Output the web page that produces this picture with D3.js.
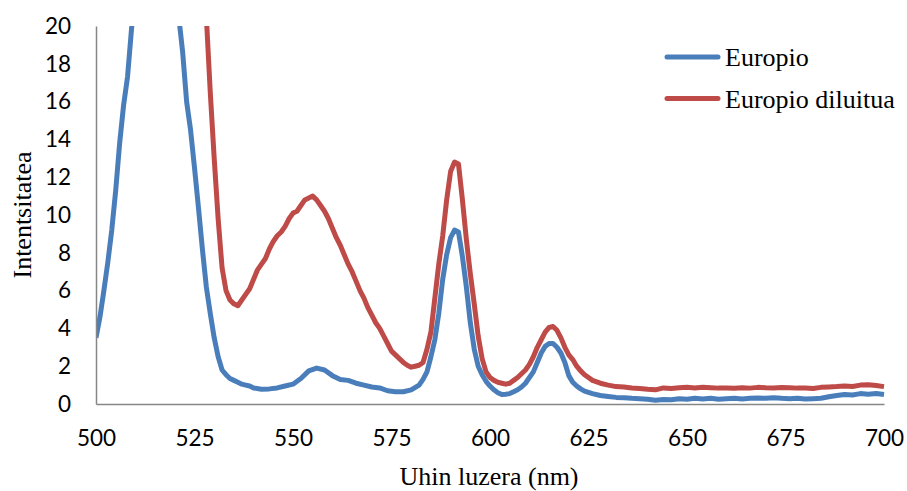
<!DOCTYPE html>
<html><head><meta charset="utf-8">
<script src="https://cdn.jsdelivr.net/npm/d3@7"></script>
<style>body{margin:0;background:#fff}svg{display:block}</style>
</head><body>
<svg id="chart" width="907" height="491"></svg>
<script>
const xTicks = [500,525,550,575,600,625,650,675,700];
const yTicks = [0,2,4,6,8,10,12,14,16,18,20];
const seriesNames = ["Europio","Europio diluitua"];
const xTitle = "Uhin luzera (nm)";
const yTitle = "Intentsitatea";

const europioNm = [500,501,502,503,504,505,506,507,508,509,510,511,513,515,517,519,520,521,522,523,524,525,526,527,528,529,530,531,532,533,534,535,536,537,538,539,540,542,544,546,548,550,552,554,556,558,560,562,564,566,568,570,572,574,576,578,580,582,583,584,585,586,587,588,589,590,591,592,593,594,595,596,597,598,599,600,601,602,603,604,605,606,607,608,609,610,611,612,613,614,615,616,617,618,619,620,621,622,623,624,626,628,630,632,634,636,638,640,642,644,646,648,650,652,654,656,658,660,662,664,666,668,670,672,674,676,678,680,682,684,686,688,690,692,694,696,698,700];
const europioVal = [3.5,4.6,6.0,7.5,9.2,11.3,13.8,15.8,17.3,19.8,22,24,28,30,29,26,24,20.5,18.6,16.0,14.5,12.5,10.4,8.2,6.2,4.8,3.5,2.5,1.8,1.55,1.35,1.25,1.15,1.05,1.0,0.95,0.85,0.78,0.8,0.85,0.95,1.05,1.35,1.75,1.9,1.8,1.5,1.3,1.25,1.1,1.0,0.9,0.85,0.7,0.65,0.65,0.75,1.0,1.3,1.7,2.5,3.4,4.8,6.6,7.9,8.8,9.2,9.1,7.8,6.2,4.3,2.9,2.0,1.55,1.2,0.95,0.75,0.6,0.5,0.52,0.55,0.65,0.75,0.9,1.1,1.4,1.7,2.2,2.7,3.05,3.2,3.2,3.0,2.7,2.2,1.5,1.15,0.95,0.8,0.68,0.55,0.45,0.4,0.35,0.33,0.3,0.28,0.25,0.2,0.24,0.22,0.28,0.25,0.3,0.27,0.3,0.25,0.28,0.3,0.27,0.3,0.32,0.3,0.33,0.3,0.28,0.3,0.26,0.28,0.3,0.38,0.45,0.5,0.48,0.55,0.52,0.55,0.5];

const diluituaNm = [526,527,528,529,530,531,532,533,534,535,536,537,538,539,540,541,542,543,544,545,546,547,548,549,550,551,552,553,554,555,556,557,558,559,560,561,562,563,564,565,566,567,568,569,570,571,572,573,574,575,576,577,578,579,580,581,582,583,584,585,586,587,588,589,590,591,592,593,594,595,596,597,598,599,600,601,602,603,604,605,606,607,608,609,610,611,612,613,614,615,616,617,618,619,620,621,622,623,624,625,626,628,630,632,634,636,638,640,642,644,646,648,650,652,654,656,658,660,662,664,666,668,670,672,674,676,678,680,682,684,686,688,690,692,694,696,698,700];
const diluituaVal = [30,26,20.5,16.5,13.0,9.8,7.2,6.0,5.5,5.3,5.2,5.5,5.8,6.1,6.6,7.1,7.4,7.7,8.2,8.6,8.9,9.1,9.4,9.8,10.1,10.2,10.5,10.8,10.9,11.0,10.8,10.5,10.2,9.8,9.3,8.8,8.4,7.9,7.4,7.0,6.5,6.0,5.6,5.1,4.7,4.3,4.0,3.6,3.2,2.8,2.6,2.4,2.2,2.05,1.95,2.0,2.05,2.2,2.9,3.8,5.6,7.4,8.9,10.8,12.3,12.8,12.7,10.8,8.7,6.9,5.3,3.6,2.4,1.7,1.4,1.25,1.15,1.1,1.05,1.1,1.25,1.4,1.6,1.8,2.1,2.5,3.0,3.4,3.8,4.05,4.1,3.9,3.5,3.0,2.6,2.35,2.0,1.75,1.55,1.4,1.25,1.1,1.0,0.92,0.9,0.85,0.82,0.78,0.75,0.85,0.82,0.86,0.88,0.85,0.88,0.86,0.84,0.85,0.83,0.86,0.84,0.88,0.86,0.85,0.87,0.86,0.84,0.85,0.82,0.88,0.9,0.92,0.95,0.93,1.0,1.02,0.98,0.92];

const colors = ["#4A7EBB","#BE4B48"];

const svg = d3.select("#chart");
const m = {left:96, right:884, top:26, bottom:404};
const x = d3.scaleLinear().domain([500,700]).range([m.left,m.right]);
const y = d3.scaleLinear().domain([0,20]).range([m.bottom,m.top]);

svg.append("defs").append("clipPath").attr("id","clip")
  .append("rect").attr("x",m.left).attr("y",m.top).attr("width",m.right-m.left+4).attr("height",m.bottom-m.top);

const series = [
  {name:seriesNames[0], pts:europioNm.map((d,i)=>[d,europioVal[i]]), color:colors[0]},
  {name:seriesNames[1], pts:diluituaNm.map((d,i)=>[d,diluituaVal[i]]), color:colors[1]}
];

const line = d3.line().x(d=>x(d[0])).y(d=>y(d[1]));
const g = svg.append("g").attr("clip-path","url(#clip)");
series.forEach(s=>{
  g.append("path").datum(s.pts).attr("d",line).attr("fill","none")
   .attr("stroke",s.color).attr("stroke-width",5).attr("stroke-linejoin","round");
});

// axes
const axX = svg.append("g").attr("transform",`translate(0,${m.bottom})`)
  .call(d3.axisBottom(x).tickValues(xTicks).tickSize(0).tickPadding(26).tickFormat(d3.format("d")));
const axY = svg.append("g").attr("transform",`translate(${m.left},0)`)
  .call(d3.axisLeft(y).tickValues(yTicks).tickSize(0).tickPadding(25).tickFormat(d3.format("d")));
[axX,axY].forEach(a=>{
  a.select(".domain").attr("stroke","#868686").attr("stroke-width",1.5);
  a.selectAll("text").attr("font-family","Lato, 'Noto Sans', sans-serif").attr("font-size",22.5).attr("fill","#000");
});

svg.append("text").attr("x",489).attr("y",485).attr("text-anchor","middle")
  .attr("font-family","'Liberation Serif','Times New Roman',serif").attr("font-size",26).text(xTitle);
svg.append("text").attr("transform","translate(31,215) rotate(-90)").attr("text-anchor","middle")
  .attr("font-family","'Liberation Serif','Times New Roman',serif").attr("font-size",26).text(yTitle);

// legend
const leg = svg.append("g");
series.forEach((s,i)=>{
  const ly = 57 + i*41.5;
  leg.append("line").attr("x1",667).attr("x2",718).attr("y1",ly).attr("y2",ly)
    .attr("stroke",s.color).attr("stroke-width",5).attr("stroke-linecap","round");
  leg.append("text").attr("x",725).attr("y",ly+9).attr("font-family","'Liberation Serif','Times New Roman',serif")
    .attr("font-size",26).text(s.name);
});
</script>
</body></html>
